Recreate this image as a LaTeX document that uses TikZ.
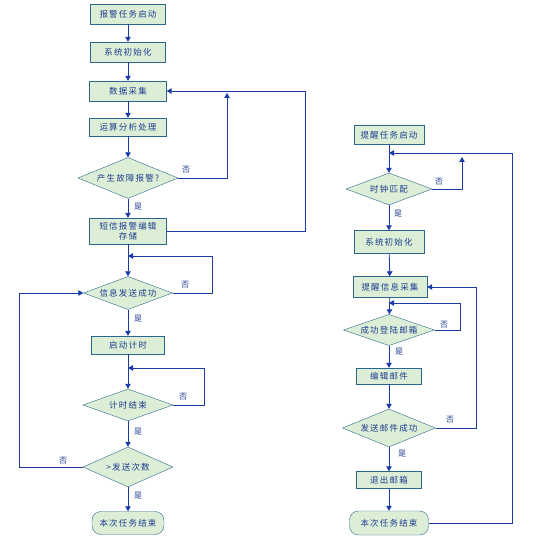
\documentclass[tikz,border=0pt]{standalone}
\usepackage{fontspec}
\newfontfamily\cjk[LetterSpace=14]{Noto Sans CJK SC}
\usetikzlibrary{shapes.geometric,arrows.meta}
\definecolor{flowline}{HTML}{1A3AA6}
\definecolor{flowedge}{HTML}{2A6690}
\definecolor{flowfill}{HTML}{DCEFD6}
\definecolor{flowtext}{HTML}{1F3B8F}

\begin{document}
\begin{tikzpicture}[x=1pt, y=-1pt, >={Triangle[length=5pt,width=5.5pt]},
    font=\cjk\fontsize{8.5}{10}\selectfont,
    box/.style={draw=flowedge, fill=flowfill, text=flowtext, rectangle,
      minimum width=#1, inner sep=1pt, align=center},
    dia/.style={draw=flowedge, fill=flowfill, text=flowtext, diamond,
      aspect=2.6, inner sep=0.5pt},
    term/.style={draw=flowedge, fill=flowfill, text=flowtext, rectangle,
      rounded corners=9pt, minimum width=#1, inner sep=1pt},
    flow/.style={flowline, thick},
    lbl/.style={text=flowtext, font=\cjk\fontsize{8}{9}\selectfont}]
  \useasboundingbox (0,0) rectangle (552,537);
  % ---------------- alarm task (left) ----------------
  \node[box=75pt, minimum height=20pt] (s1) at (128,14) {报警任务启动};
  \node[box=75pt, minimum height=20pt] (s2) at (128,52) {系统初始化};
  \node[box=77pt, minimum height=20pt] (s3) at (128,91) {数据采集};
  \node[box=77pt, minimum height=18pt] (s4) at (128,127) {运算分析处理};
  \node[dia, minimum width=100pt, minimum height=41pt] (d1) at (128,178) {产生故障报警?};
  \node[box=77pt, minimum height=26pt] (s5) at (128,231) {短信报警编辑\\存储};
  \node[dia, minimum width=89pt, minimum height=33pt] (d2) at (128,293) {信息发送成功};
  \node[box=73pt, minimum height=18pt] (s6) at (128,345) {启动计时};
  \node[dia, minimum width=90pt, minimum height=32pt] (d3) at (128,405) {计时结束};
  \node[dia, minimum width=90pt, minimum height=40pt] (d4) at (128,467) {>发送次数};
  \node[term=72pt, minimum height=23pt] (e1) at (128,523) {本次任务结束};
  \coordinate (u1) at (227,93);
  \coordinate (j1) at (128,256);
  \coordinate (j2) at (128,368);
  \draw[flow, ->] (s1) -- (s2);
  \draw[flow, ->] (s2) -- (s3);
  \draw[flow, ->] (s3) -- (s4);
  \draw[flow, ->] (s4) -- (d1);
  \draw[flow, ->] (d1) -- (s5);
  \draw[flow, ->] (d1.east) -| (u1);
  \draw[flow, ->] (s5.east) -- ++(139,0) |- (s3.east);
  \draw[flow, ->] (s5) -- (d2);
  \draw[flow, ->] (d2.east) -- (212,293) |- (j1);
  \draw[flow, ->] (d2) -- (s6);
  \draw[flow, ->] (s6) -- (d3);
  \draw[flow, ->] (d3.east) -- (204,405) |- (j2);
  \draw[flow, ->] (d3) -- (d4);
  \draw[flow, ->] (d4) -- (e1);
  \draw[flow, ->] (d4.west) -- (19,467) |- (d2.west);
  \node[lbl] (n1) at (186,170) {否};
  \node[lbl] (y1) at (138,207) {是};
  \node[lbl] (n2) at (185,285) {否};
  \node[lbl] (y2) at (138,319) {是};
  \node[lbl] (n3) at (183,397) {否};
  \node[lbl] (y3) at (138,432) {是};
  \node[lbl] (n4) at (63,461) {否};
  \node[lbl] (y4) at (138,496) {是};
  % ---------------- reminder task (right) ----------------
  \node[box=70pt, minimum height=19pt] (r1) at (389,135) {提醒任务启动};
  \node[dia, minimum width=86pt, minimum height=32pt] (rd1) at (389,189) {时钟匹配};
  \node[box=70pt, minimum height=23pt] (r2) at (389,242) {系统初始化};
  \node[box=74pt, minimum height=21pt] (r3) at (390,287) {提醒信息采集};
  \node[dia, minimum width=91pt, minimum height=31pt] (rd2) at (389,330) {成功登陆邮箱};
  \node[box=65pt, minimum height=16pt] (r4) at (389,376) {编辑邮件};
  \node[dia, minimum width=93pt, minimum height=38pt] (rd3) at (389,428) {发送邮件成功};
  \node[box=65pt, minimum height=17pt] (r5) at (389,480) {退出邮箱};
  \node[term=79pt, minimum height=24pt] (e2) at (389,523) {本次任务结束};
  \coordinate (u2) at (462,157);
  \coordinate (j3) at (389,153);
  \coordinate (j4) at (389,303);
  \draw[flow, ->] (r1) -- (rd1);
  \draw[flow, ->] (rd1.east) -| (u2);
  \draw[flow, ->] (rd1) -- (r2);
  \draw[flow, ->] (r2) -- (r3);
  \draw[flow, ->] (r3) -- (rd2);
  \draw[flow, ->] (rd2.east) -- (460,330) |- (j4);
  \draw[flow, ->] (rd2) -- (r4);
  \draw[flow, ->] (r4) -- (rd3);
  \draw[flow, ->] (rd3.east) -- (476,428) |- (r3.east);
  \draw[flow, ->] (rd3) -- (r5);
  \draw[flow, ->] (r5) -- (e2);
  \draw[flow, ->] (e2.east) -- (512,523) |- (j3);
  \node[lbl] (n5) at (439,182) {否};
  \node[lbl] (y5) at (398,214) {是};
  \node[lbl] (n6) at (444,325) {否};
  \node[lbl] (y6) at (399,352) {是};
  \node[lbl] (n7) at (450,420) {否};
  \node[lbl] (y7) at (402,454) {是};
\end{tikzpicture}
\end{document}
